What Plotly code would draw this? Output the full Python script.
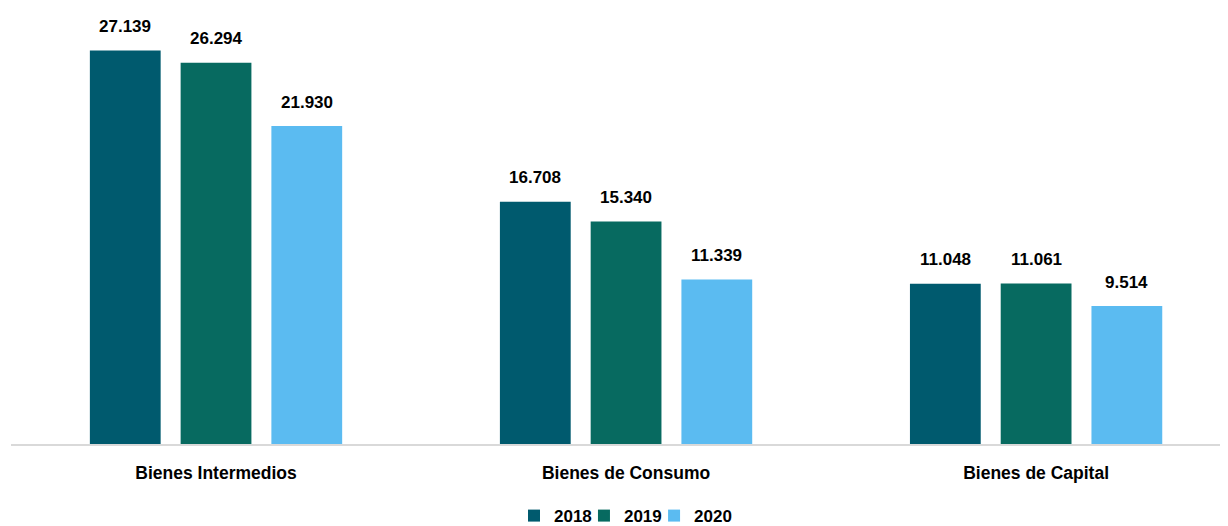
import plotly.graph_objects as go

categories = ["Bienes Intermedios", "Bienes de Consumo", "Bienes de Capital"]
years = ["2018", "2019", "2020"]
values_2018 = [27139, 16708, 11048]
values_2019 = [26294, 15340, 11061]
values_2020 = [21930, 11339, 9514]
colors = ["#005A6E", "#076A60", "#5BBBF1"]

series = [values_2018, values_2019, values_2020]
FONT = "Liberation Sans, Arial"
legend_ids = ["legend", "legend2", "legend3"]
legend_x = [0.4133, 0.4708, 0.5284]

fig = go.Figure()
for name, vals, col, lg in zip(years, series, colors, legend_ids):
    fig.add_trace(go.Bar(
        x=categories, y=vals, name=f"<b>{name}</b>",
        marker=dict(color=col, line=dict(width=0)),
        legend=lg,
    ))

# value labels, placed via axis coordinates with a pixel offset per series
slot_px = 90.7
for i, vals in enumerate(series):
    for c, v in zip(categories, vals):
        fig.add_annotation(
            x=c, y=v, xref="x", yref="y",
            text="<b>" + f"{v:,}".replace(",", ".") + "</b>",
            showarrow=False, xshift=(i - 1) * slot_px, yshift=24,
            yanchor="middle", xanchor="center",
            font=dict(size=17, color="#000000", family=FONT),
        )

legend_style = dict(orientation="h", xanchor="left", y=-0.166, yanchor="middle",
                    font=dict(size=17, color="#000000"), itemwidth=30,
                    bgcolor="rgba(0,0,0,0)")

fig.update_layout(
    width=1220, height=518,
    margin=dict(l=3, r=0, t=2, b=82, autoexpand=False),
    paper_bgcolor="white", plot_bgcolor="white",
    barmode="group", bargap=0.336, bargroupgap=0.22,
    separators=",.",
    font=dict(family=FONT, size=16, color="#000000"),
    showlegend=True,
    legend=dict(x=legend_x[0], **legend_style),
    legend2=dict(x=legend_x[1], **legend_style),
    legend3=dict(x=legend_x[2], **legend_style),
    xaxis=dict(
        range=[-0.5, 2.468], showgrid=False, showline=True, linecolor="#D9D9D9",
        linewidth=2, ticks="", tickvals=categories,
        ticktext=[f"<b>{c}</b>" for c in categories],
        tickfont=dict(size=17.5, color="#000000"),
        ticklabelstandoff=12,
    ),
    yaxis=dict(range=[0, 29931], visible=False, showgrid=False, zeroline=False),
)

fig.write_html("out.html")
